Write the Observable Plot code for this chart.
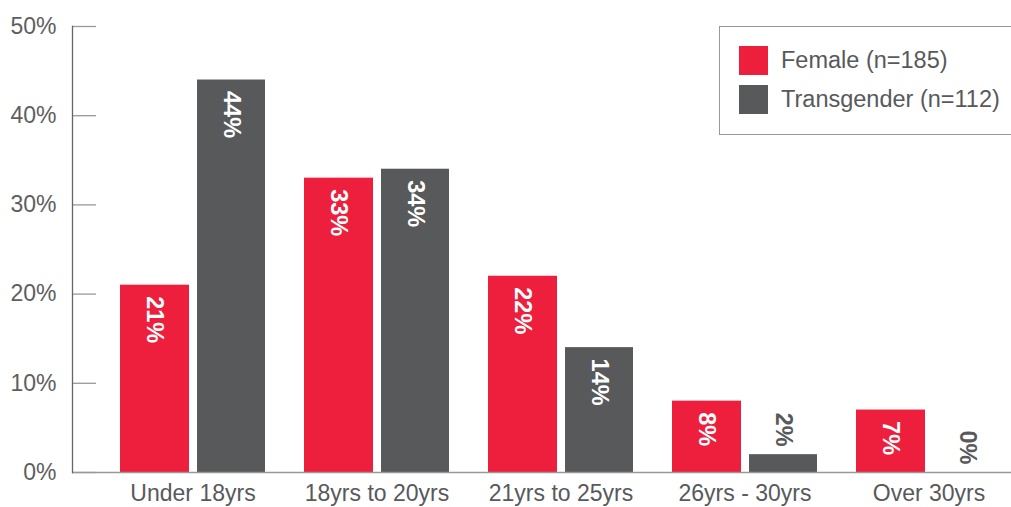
<!DOCTYPE html>
<html>
<head>
<meta charset="utf-8">
<script src="https://cdn.jsdelivr.net/npm/d3@7"></script>
<script src="https://cdn.jsdelivr.net/npm/@observablehq/plot@0.6"></script>
<style>
  html, body { margin: 0; padding: 0; background: #fff; }
  #wrap { position: relative; width: 1011px; height: 507px; font-family: "Liberation Sans", Arial, sans-serif; }
  #legend { position: absolute; left: 719px; top: 26px; width: 300px; height: 109px; border: 1px solid #999; box-sizing: border-box; }
  .item { position: absolute; left: 19px; display: flex; align-items: center; font-size: 23.5px; color: #58595b; }
  .sw { width: 29px; height: 29px; margin-right: 13px; }
</style>
</head>
<body>
<div id="wrap"><div id="legend"></div></div>
<script>
const categories = ["Under 18yrs", "18yrs to 20yrs", "21yrs to 25yrs", "26yrs - 30yrs", "Over 30yrs"];
const seriesNames = ["Female", "Transgender"];
const seriesLabels = ["Female (n=185)", "Transgender (n=112)"];
const femaleValues = [21, 33, 22, 8, 7];
const transgenderValues = [44, 34, 14, 2, 0];
const yTicks = [0, 10, 20, 30, 40, 50];
const colors = ["#ed1f3d", "#58595b"];

const rows = [];
categories.forEach((c, i) => {
  rows.push({category: c, series: "Female", value: femaleValues[i]});
  rows.push({category: c, series: "Transgender", value: transgenderValues[i]});
});
const female = rows.filter(d => d.series === "Female");
const trans = rows.filter(d => d.series === "Transgender");
const inside = d => d.value >= 5;

const W = 1011, H = 507, ML = 72, MR = 0;
const textColor = "#58595b";

const chart = Plot.plot({
  width: W, height: H,
  marginLeft: ML, marginRight: MR, marginTop: 26, marginBottom: 35,
  style: {fontFamily: "'Liberation Sans', Arial, sans-serif", fontSize: "23px", color: textColor, background: "transparent", overflow: "visible"},
  x: {domain: categories, range: [120, 1001], paddingInner: 0.212, paddingOuter: 0, label: null},
  y: {domain: [0, 50], label: null},
  marks: [
    Plot.ruleY(yTicks, {y: d => d, stroke: "#999", strokeWidth: 1.3, insetRight: W - ML - MR - 24}),
    Plot.barY(female, {x: "category", y: "value", fill: colors[0], insetRight: 76}),
    Plot.barY(trans, {x: "category", y: "value", fill: colors[1], insetLeft: 77}),
    Plot.ruleY([0], {stroke: "#999", strokeWidth: 1.5}),
    Plot.frame({anchor: "left", stroke: "#666", strokeWidth: 1.3}),
    Plot.axisY({ticks: yTicks, tickSize: 0, tickPadding: 16, tickFormat: d => d + "%", fontSize: 23, color: "#5e5e5e", label: null}),
    Plot.axisX({tickSize: 0, tickPadding: 12, fontSize: 23, color: textColor, label: null}),
    Plot.text(female.filter(inside), {x: "category", y: "value", text: d => d.value + "%", rotate: 90, textAnchor: "start", dx: -38, dy: 11, fill: "white", fontWeight: "bold", fontSize: 23.5}),
    Plot.text(trans.filter(inside), {x: "category", y: "value", text: d => d.value + "%", rotate: 90, textAnchor: "start", dx: 39, dy: 11, fill: "white", fontWeight: "bold", fontSize: 23.5}),
    Plot.text(female.filter(d => !inside(d)), {x: "category", y: "value", text: d => d.value + "%", rotate: 90, textAnchor: "end", dx: -38, dy: -8, fill: textColor, fontWeight: "bold", fontSize: 23.5}),
    Plot.text(trans.filter(d => !inside(d)), {x: "category", y: "value", text: d => d.value + "%", rotate: 90, textAnchor: "end", dx: 39, dy: -8, fill: textColor, fontWeight: "bold", fontSize: 23.5})
  ]
});
document.getElementById("wrap").prepend(chart);

const legend = document.getElementById("legend");
seriesLabels.forEach((label, i) => {
  const item = document.createElement("div");
  item.className = "item";
  item.style.top = (19 + i * 39) + "px";
  const sw = document.createElement("div");
  sw.className = "sw";
  sw.style.background = colors[i];
  const t = document.createElement("span");
  t.textContent = label;
  item.appendChild(sw);
  item.appendChild(t);
  legend.appendChild(item);
});
</script>
</body>
</html>
